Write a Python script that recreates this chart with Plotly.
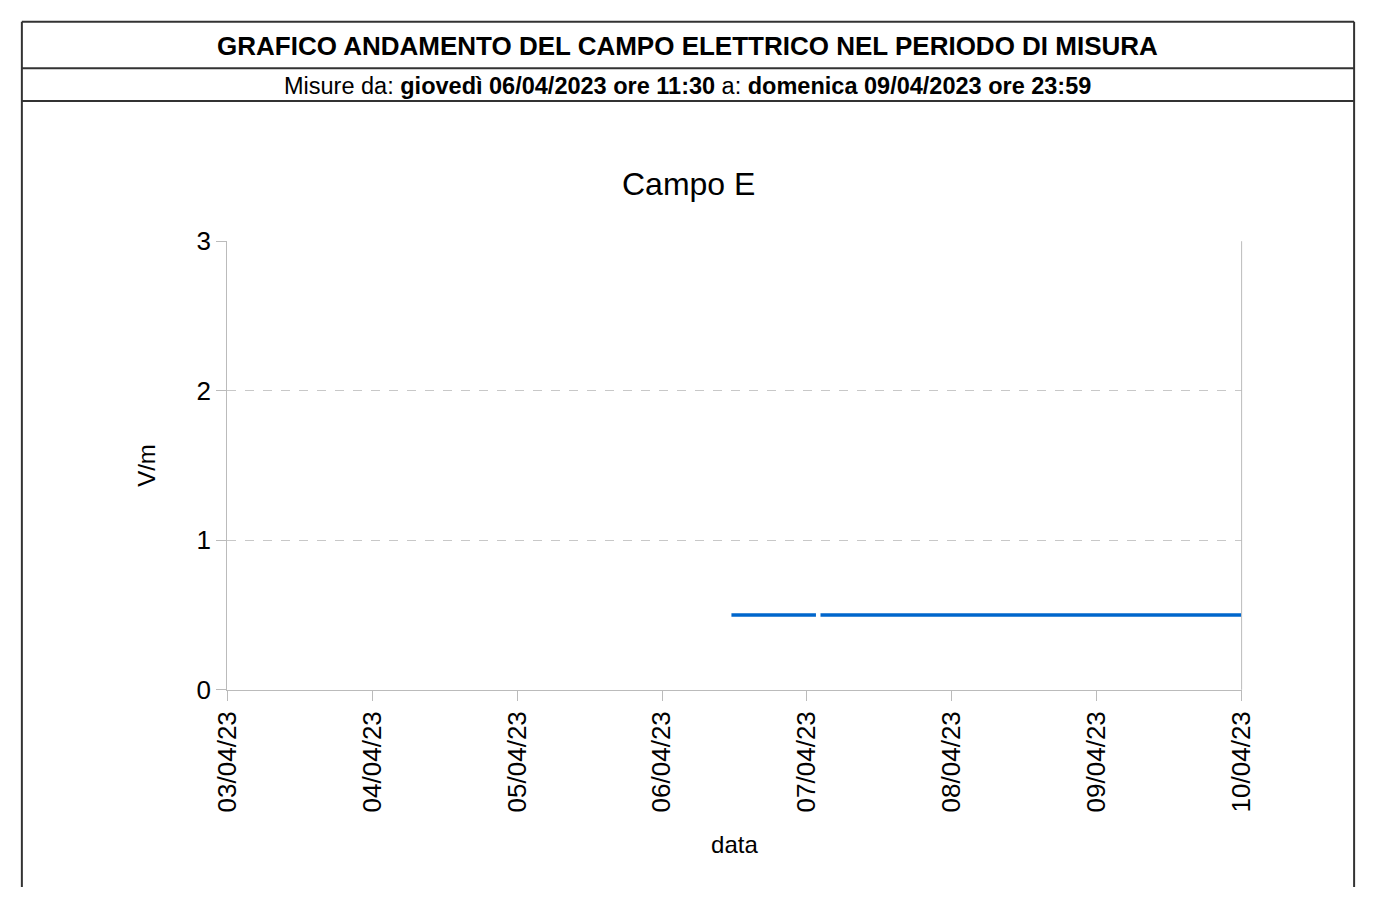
import plotly.graph_objects as go

# Data
times = ["2023-04-06 11:30", "2023-04-07 01:30", None, "2023-04-07 02:15", "2023-04-09 23:59"]
values = [0.5, 0.5, None, 0.5, 0.5]
tick_dates = ["2023-04-03", "2023-04-04", "2023-04-05", "2023-04-06",
              "2023-04-07", "2023-04-08", "2023-04-09", "2023-04-10"]
tick_labels = ["03/04/23", "04/04/23", "05/04/23", "06/04/23",
               "07/04/23", "08/04/23", "09/04/23", "10/04/23"]
y_ticks = [0, 1, 2, 3]

W, H = 1373, 902
FONT = "Liberation Sans, Arial, sans-serif"

def px(x):
    return x / W

def py(y):
    return 1 - y / H

fig = go.Figure()
fig.add_trace(go.Scatter(
    x=times, y=values, mode="lines", connectgaps=False,
    line=dict(color="#0066cc", width=3.5), showlegend=False, hoverinfo="skip"))

fig.update_layout(
    autosize=True, margin=dict(l=0, r=0, t=0, b=0),
    paper_bgcolor="white", plot_bgcolor="white",
    font=dict(family=FONT, color="black"),
    xaxis=dict(
        domain=[px(216), px(1253)],
        type="date", range=["2023-04-03", "2023-04-10"],
        tickvals=tick_dates, ticktext=tick_labels, tickangle=-90,
        tickfont=dict(size=26, family=FONT), showgrid=False,
        ticks="outside", ticklen=10, tickcolor="#bbbbbb", tickwidth=1,
        showline=True, linecolor="#bbbbbb", linewidth=1, zeroline=False,
        title=dict(text="data", font=dict(size=24, family=FONT), standoff=24),
    ),
    yaxis=dict(
        domain=[py(698), py(234)],
        range=[0, 3], tickvals=y_ticks,
        tickfont=dict(size=26, family=FONT),
        showgrid=True, gridcolor="#c8c8c8", griddash="dash", gridwidth=1,
        ticks="outside", ticklen=10, tickcolor="#bbbbbb", tickwidth=1,
        showline=True, linecolor="#bbbbbb", linewidth=1, zeroline=False,
        title=dict(text="V/m", font=dict(size=24, family=FONT), standoff=34),
    ),
)

# Right border of plot area
fig.add_shape(type="line", xref="paper", yref="paper",
              x0=px(1253), x1=px(1253), y0=py(698), y1=py(234),
              line=dict(color="#bbbbbb", width=1))

# Header frame
frame = dict(color="#333333", width=2)
for (x0, y0, x1, y1) in [(6, 7, 1368, 7), (6, 7, 6, H), (1368, 7, 1368, H),
                         (6, 55, 1368, 55), (6, 89, 1368, 89)]:
    fig.add_shape(type="line", xref="paper", yref="paper",
                  x0=px(x0), y0=py(y0), x1=px(x1), y1=py(y1), line=frame)

fig.add_annotation(xref="paper", yref="paper", x=px(687), y=py(32),
                   text="<b>GRAFICO ANDAMENTO DEL CAMPO ELETTRICO NEL PERIODO DI MISURA</b>",
                   showarrow=False, font=dict(size=26, family=FONT),
                   xanchor="center", yanchor="middle")
fig.add_annotation(xref="paper", yref="paper", x=px(686), y=py(73),
                   text="Misure da: <b>giovedì 06/04/2023 ore 11:30</b> a: <b>domenica 09/04/2023 ore 23:59</b>",
                   showarrow=False, font=dict(size=23.5, family=FONT),
                   xanchor="center", yanchor="middle")
fig.add_annotation(xref="paper", yref="paper", x=px(688), y=py(175),
                   text="Campo E", showarrow=False,
                   font=dict(size=32, family=FONT),
                   xanchor="center", yanchor="middle")

fig.write_html(
    "out.html",
    config={"displayModeBar": False, "responsive": True},
    default_width="100vw", default_height="100vh",
    post_script=("document.body.style.margin='0';"
                 "document.body.style.overflow='hidden';"
                 "Plotly.Plots.resize(document.getElementById('{plot_id}'));"),
)
